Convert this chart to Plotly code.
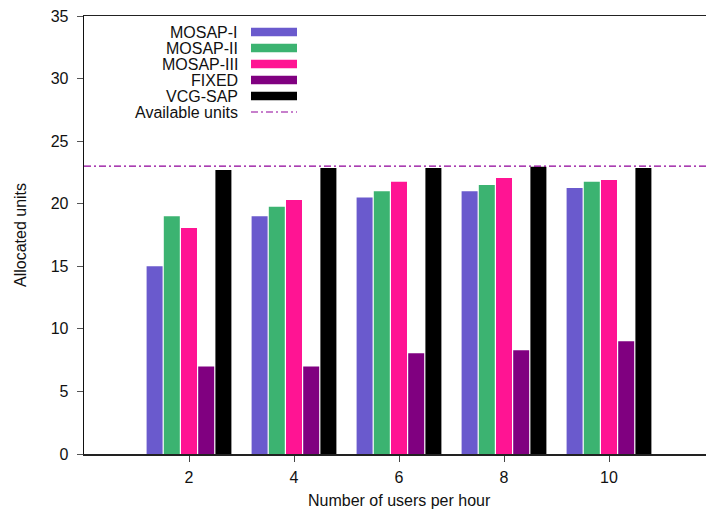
import plotly.graph_objects as go

users = [2, 4, 6, 8, 10]
mosap_1 = [15.0, 19.0, 20.5, 21.0, 21.25]
mosap_2 = [19.0, 19.75, 21.0, 21.5, 21.75]
mosap_3 = [18.05, 20.3, 21.75, 22.05, 21.9]
fixed = [7.0, 7.0, 8.05, 8.3, 9.0]
vcg_sap = [22.7, 22.85, 22.85, 22.95, 22.85]
available_units = 23
y_ticks = [0, 5, 10, 15, 20, 25, 30, 35]

series_names = ["MOSAP-I", "MOSAP-II", "MOSAP-III", "FIXED", "VCG-SAP"]
series_values = [mosap_1, mosap_2, mosap_3, fixed, vcg_sap]
series_colors = ["#6A5ACD", "#3CB371", "#FF1493", "#800080", "#000000"]
line_color = "#8F0099"

W, H = 706, 510
ML, MR, MT, MB = 84, 0, 16, 56
PW, PH = W - ML - MR, H - MT - MB
FONT = "Liberation Sans, Arial, Helvetica, sans-serif"


def px_x(px):
    return (px - ML) / PW


def px_y(py):
    return (H - MB - py) / PH


fig = go.Figure()
for name, vals, col in zip(series_names, series_values, series_colors):
    fig.add_trace(go.Bar(x=users, y=vals, name=name, marker_color=col,
                         marker_line_width=0, showlegend=False))

shapes = [
    dict(type="line", xref="x", yref="y", x0=0, x1=PW / 52.5,
         y0=available_units, y1=available_units,
         line=dict(color=line_color, width=1.2, dash="7px,3px,2px,3px"),
         layer="above"),
]
annotations = []

# manual legend (text to the left of the swatch)
row_y = [32, 48, 64, 80, 96, 112]
text_right = 240
sw_x0, sw_x1 = 251, 297
for i, (name, col) in enumerate(zip(series_names, series_colors)):
    cy = row_y[i]
    annotations.append(dict(xref="paper", yref="paper", x=px_x(text_right), y=px_y(cy),
                            text=name, showarrow=False, xanchor="right", yanchor="middle",
                            font=dict(family=FONT, size=16, color="#111")))
    shapes.append(dict(type="rect", xref="paper", yref="paper",
                       x0=px_x(sw_x0), x1=px_x(sw_x1), y0=px_y(cy + 4.3), y1=px_y(cy - 4.3),
                       fillcolor=col, line=dict(width=0)))
cy = row_y[5]
annotations.append(dict(xref="paper", yref="paper", x=px_x(text_right), y=px_y(cy),
                        text="Available units", showarrow=False, xanchor="right", yanchor="middle",
                        font=dict(family=FONT, size=16, color="#111")))
shapes.append(dict(type="line", xref="paper", yref="paper",
                   x0=px_x(sw_x0), x1=px_x(sw_x1), y0=px_y(cy), y1=px_y(cy),
                   line=dict(color=line_color, width=1.2, dash="7px,3px,2px,3px")))

# axis titles
annotations.append(dict(xref="x", yref="paper", x=6, y=px_y(500),
                        text="Number of users per hour", showarrow=False,
                        xanchor="center", yanchor="middle",
                        font=dict(family=FONT, size=16, color="#111")))
annotations.append(dict(xref="paper", yref="paper", x=px_x(20), y=px_y(235),
                        text="Allocated units", showarrow=False, textangle=-90,
                        xanchor="center", yanchor="middle",
                        font=dict(family=FONT, size=16, color="#111")))

fig.update_layout(
    width=W, height=H,
    margin=dict(l=ML, r=MR, t=MT, b=MB, pad=0),
    paper_bgcolor="white", plot_bgcolor="white",
    barmode="group", bargap=0.181, bargroupgap=0.07,
    font=dict(family=FONT, size=16, color="#111"),
    shapes=shapes, annotations=annotations,
    xaxis=dict(range=[0, PW / 52.5], tickmode="array", tickvals=users,
               ticktext=[str(u) for u in users],
               showgrid=False, zeroline=False,
               showline=True, linecolor="#222", linewidth=1.5, mirror=True,
               ticks="outside", ticklen=6, tickcolor="#444", tickwidth=1,
               ticklabelstandoff=2, ticklabeloverflow="allow",
               tickfont=dict(size=16, color="#111")),
    yaxis=dict(range=[0, 35], tickmode="array", tickvals=y_ticks,
               showgrid=False, zeroline=False,
               showline=True, linecolor="#111", linewidth=1.3,
               ticks="outside", ticklen=6, tickcolor="#555", tickwidth=1,
               ticklabelstandoff=5, ticklabeloverflow="allow",
               tickfont=dict(size=16, color="#111")),
)

fig.write_html(
    "out.html",
    config={"displayModeBar": False, "staticPlot": True},
    post_script=("document.documentElement.style.margin='0';"
                 "document.documentElement.style.overflow='hidden';"
                 "document.body.style.margin='0';"
                 "document.body.style.overflow='hidden';"),
)
